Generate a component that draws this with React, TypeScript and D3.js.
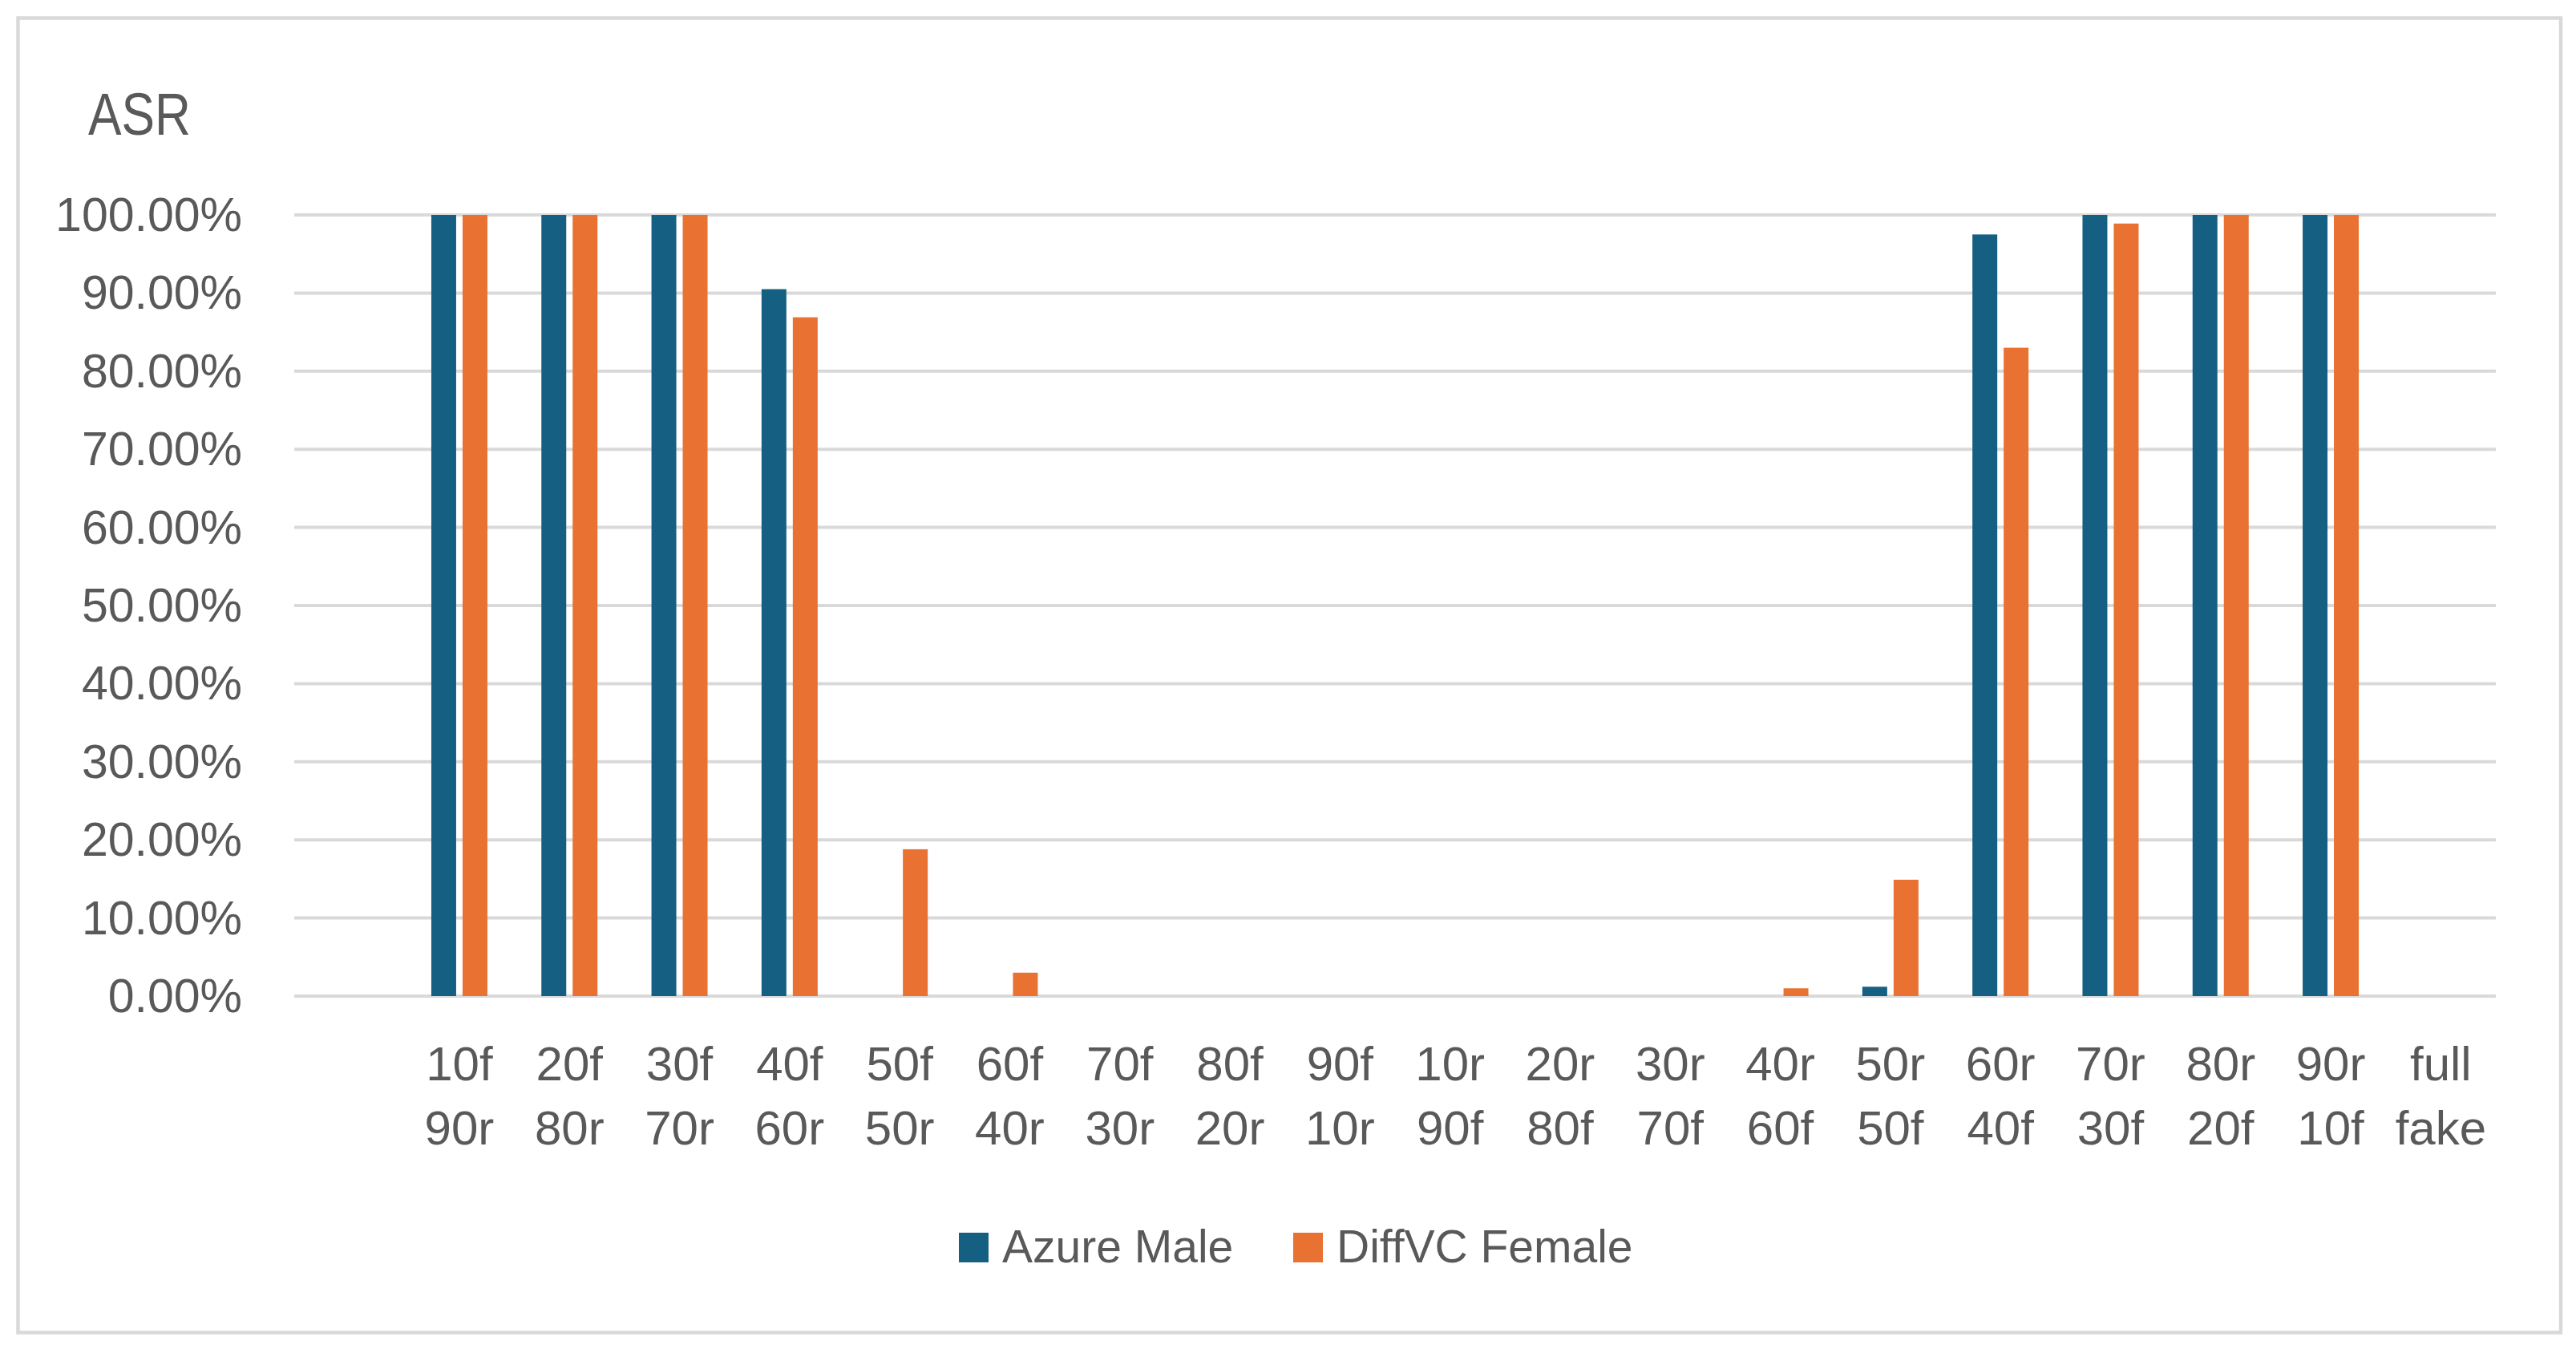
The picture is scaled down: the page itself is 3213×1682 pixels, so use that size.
import React from "react";
import * as d3 from "d3";

const categories = [
  "10f 90r", "20f 80r", "30f 70r", "40f 60r", "50f 50r", "60f 40r", "70f 30r",
  "80f 20r", "90f 10r", "10r 90f", "20r 80f", "30r 70f", "40r 60f", "50r 50f",
  "60r 40f", "70r 30f", "80r 20f", "90r 10f", "full fake",
];
const seriesNames = ["Azure Male", "DiffVC Female"];
const azureMale = [1, 1, 1, 0.905, 0, 0, 0, 0, 0, 0, 0, 0, 0, 0.012, 0.975, 1, 1, 1, 0];
const diffvcFemale = [1, 1, 1, 0.869, 0.188, 0.03, 0, 0, 0, 0, 0, 0, 0.01, 0.149, 0.83, 0.989, 1, 1, 0];
const yTicks = [0, 0.1, 0.2, 0.3, 0.4, 0.5, 0.6, 0.7, 0.8, 0.9, 1.0];
const colors = ["#156082", "#E97132"];
const yTitle = "ASR";

const W = 3213;
const H = 1682;
const TEXT = "#595959";
const GRID = "#d9d9d9";
const FONT = "'Liberation Sans', Arial, sans-serif";

export default function App() {
  const plotLeft = 367;
  const plotRight = 3113;
  const y0 = 1242;
  const y1 = 268;

  // first slot left empty (as in the original chart)
  const x = d3.scaleBand<string>().domain(["__blank__", ...categories]).range([plotLeft, plotRight]).padding(0);
  const inner = d3
    .scaleBand<string>()
    .domain(seriesNames)
    .range([0, x.bandwidth()])
    .paddingInner(8 / 39)
    .paddingOuter(0.863);
  const y = d3.scaleLinear().domain([0, 1]).range([y0, y1]);
  const fmt = d3.format(".2%");
  const series = [azureMale, diffvcFemale];

  return (
    <svg width={W} height={H} style={{ position: "absolute", left: 0, top: 0, background: "#fff" }}>
      <rect x={0} y={0} width={W} height={H} fill="#fff" />
      <rect x={22.5} y={22.5} width={3194 - 22.5} height={1661.5 - 22.5} fill="#fff" stroke={GRID} strokeWidth={4.5} />

      <text x={110} y={168} fontFamily={FONT} fontSize={74} fill={TEXT} textLength={128} lengthAdjust="spacingAndGlyphs">
        {yTitle}
      </text>

      {yTicks.map((t) => (
        <g key={t}>
          <line x1={plotLeft} x2={plotRight} y1={y(t)} y2={y(t)} stroke={GRID} strokeWidth={4} />
          <text x={302} y={y(t) + 20} textAnchor="end" fontFamily={FONT} fontSize={59} fill={TEXT}>
            {fmt(t)}
          </text>
        </g>
      ))}

      {series.map((vals, si) =>
        vals.map((v, ci) =>
          v > 0 ? (
            <rect
              key={`${si}-${ci}`}
              x={(x(categories[ci]) ?? 0) + (inner(seriesNames[si]) ?? 0)}
              y={y(v)}
              width={inner.bandwidth()}
              height={y0 - y(v)}
              fill={colors[si]}
            />
          ) : null
        )
      )}

      {categories.map((c) => {
        const cx = (x(c) ?? 0) + x.bandwidth() / 2;
        const lines = c.split(" ");
        return (
          <text key={c} textAnchor="middle" fontFamily={FONT} fontSize={60} fill={TEXT}>
            {lines.map((l, i) => (
              <tspan key={i} x={cx} y={1347 + i * 80}>
                {l}
              </tspan>
            ))}
          </text>
        );
      })}

      {seriesNames.map((s, i) => {
        const lx = i === 0 ? 1196 : 1613;
        return (
          <g key={s}>
            <rect x={lx} y={1537} width={37} height={37} fill={colors[i]} />
            <text x={lx + 54} y={1574} fontFamily={FONT} fontSize={57} fill={TEXT}>
              {s}
            </text>
          </g>
        );
      })}
    </svg>
  );
}
